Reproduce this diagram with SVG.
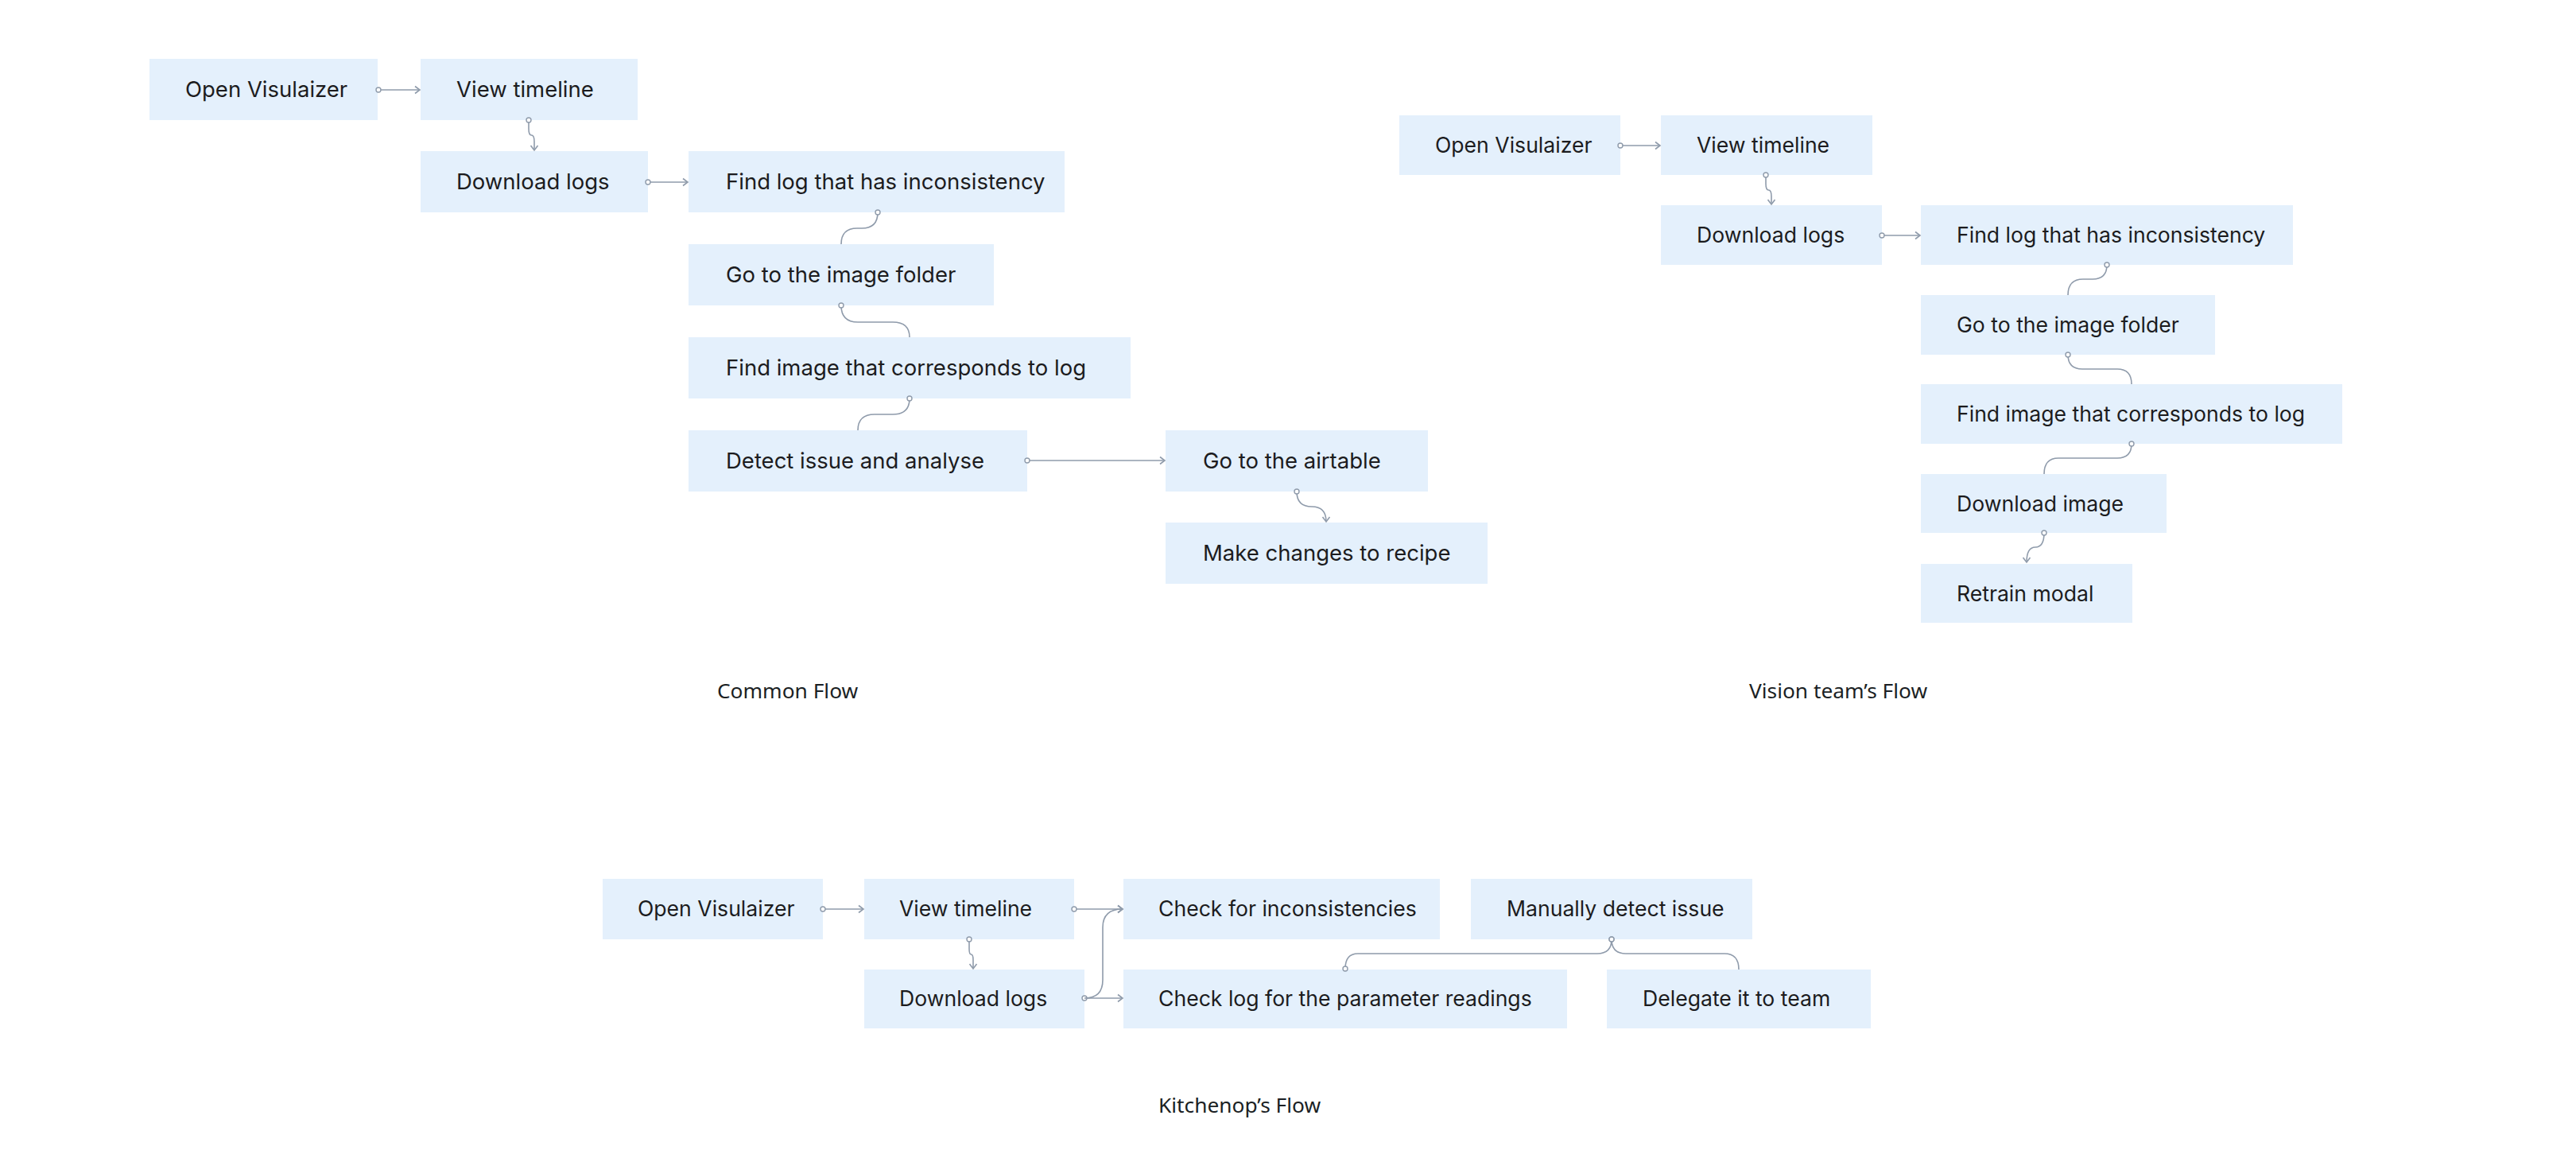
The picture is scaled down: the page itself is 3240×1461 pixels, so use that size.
<svg xmlns="http://www.w3.org/2000/svg" width="3240" height="1461" viewBox="0 0 3240 1461">
<style>
.box{fill:#E4F0FC}
.t{font-family:Inter,"Open Sans",sans-serif;font-size:27.5px;fill:#1c1c1e}
.t2{font-family:Inter,"Open Sans",sans-serif;font-size:26.6px;fill:#1c1c1e}
.title{font-family:"Noto Sans","Open Sans",sans-serif;font-size:26.3px;fill:#1b1f24}
.c{fill:none;stroke:#8f9bab;stroke-width:1.6}
</style>
<defs>
<marker id="arr" markerWidth="12" markerHeight="12" refX="10" refY="6" orient="auto" markerUnits="userSpaceOnUse"><path d="M4,1.5 L10,6 L4,10.5" fill="none" stroke="#8f9bab" stroke-width="1.6"/></marker>
<marker id="dot" markerWidth="10" markerHeight="10" refX="5" refY="5" markerUnits="userSpaceOnUse"><circle cx="5" cy="5" r="3" fill="#fff" stroke="#8f9bab" stroke-width="1.4"/></marker>
</defs>
<rect width="3240" height="1461" fill="#fff"/>

<!-- Common Flow -->
<g id="c-open"><rect class="box" x="188" y="74" width="287" height="77"/><text class="t" x="233" y="122">Open Visulaizer</text></g>
<g id="c-view"><rect class="box" x="529" y="74" width="273" height="77"/><text class="t" x="574" y="122">View timeline</text></g>
<g id="c-download"><rect class="box" x="529" y="190" width="286" height="77"/><text class="t" x="574" y="238">Download logs</text></g>
<g id="c-findlog"><rect class="box" x="866" y="190" width="473" height="77"/><text class="t" x="913" y="238">Find log that has inconsistency</text></g>
<g id="c-folder"><rect class="box" x="866" y="307" width="384" height="77"/><text class="t" x="913" y="355">Go to the image folder</text></g>
<g id="c-findimg"><rect class="box" x="866" y="424" width="556" height="77"/><text class="t" x="913" y="472">Find image that corresponds to log</text></g>
<g id="c-detect"><rect class="box" x="866" y="541" width="426" height="77"/><text class="t" x="913" y="589">Detect issue and analyse</text></g>
<g id="c-airtable"><rect class="box" x="1466" y="541" width="330" height="77"/><text class="t" x="1513" y="589">Go to the airtable</text></g>
<g id="c-recipe"><rect class="box" x="1466" y="657" width="405" height="77"/><text class="t" x="1513" y="705">Make changes to recipe</text></g>
<text class="title" x="902" y="878">Common Flow</text>

<!-- Vision team's Flow -->
<g id="v-open"><rect class="box" x="1760" y="145" width="278" height="75"/><text class="t2" x="1805" y="192">Open Visulaizer</text></g>
<g id="v-view"><rect class="box" x="2089" y="145" width="266" height="75"/><text class="t2" x="2134" y="192">View timeline</text></g>
<g id="v-download"><rect class="box" x="2089" y="258" width="278" height="75"/><text class="t2" x="2134" y="305">Download logs</text></g>
<g id="v-findlog"><rect class="box" x="2416" y="258" width="468" height="75"/><text class="t2" x="2461" y="305">Find log that has inconsistency</text></g>
<g id="v-folder"><rect class="box" x="2416" y="371" width="370" height="75"/><text class="t2" x="2461" y="418">Go to the image folder</text></g>
<g id="v-findimg"><rect class="box" x="2416" y="483" width="530" height="75"/><text class="t2" x="2461" y="530">Find image that corresponds to log</text></g>
<g id="v-dlimg"><rect class="box" x="2416" y="596" width="309" height="74"/><text class="t2" x="2461" y="643">Download image</text></g>
<g id="v-retrain"><rect class="box" x="2416" y="709" width="266" height="74"/><text class="t2" x="2461" y="756">Retrain modal</text></g>
<text class="title" x="2200" y="878">Vision team’s Flow</text>

<!-- Kitchenop's Flow -->
<g id="k-open"><rect class="box" x="758" y="1105" width="277" height="76"/><text class="t2" x="802" y="1152">Open Visulaizer</text></g>
<g id="k-view"><rect class="box" x="1087" y="1105" width="264" height="76"/><text class="t2" x="1131" y="1152">View timeline</text></g>
<g id="k-download"><rect class="box" x="1087" y="1219" width="277" height="74"/><text class="t2" x="1131" y="1265">Download logs</text></g>
<g id="k-check"><rect class="box" x="1413" y="1105" width="398" height="76"/><text class="t2" x="1457" y="1152">Check for inconsistencies</text></g>
<g id="k-manual"><rect class="box" x="1850" y="1105" width="354" height="76"/><text class="t2" x="1895" y="1152">Manually detect issue</text></g>
<g id="k-checklog"><rect class="box" x="1413" y="1219" width="558" height="74"/><text class="t2" x="1457" y="1265">Check log for the parameter readings</text></g>
<g id="k-delegate"><rect class="box" x="2021" y="1219" width="332" height="74"/><text class="t2" x="2066" y="1265">Delegate it to team</text></g>
<text class="title" x="1457" y="1399">Kitchenop’s Flow</text>

<g id="connectors">
<path class="c" marker-start="url(#dot)" marker-end="url(#arr)" d="M476 113 L528 113"/>
<path class="c" marker-start="url(#dot)" marker-end="url(#arr)" d="M665 151 L665 162 Q665 170 668.5 170 Q672 170 672 178 L672 189"/>
<path class="c" marker-start="url(#dot)" marker-end="url(#arr)" d="M815 229 L865 229"/>
<path class="c" marker-start="url(#dot)" d="M1104 267 Q1104 287 1084 287 L1078 287 Q1058 287 1058 307"/>
<path class="c" marker-start="url(#dot)" d="M1058 384 Q1058 405 1079 405 L1123 405 Q1144 405 1144 424"/>
<path class="c" marker-start="url(#dot)" d="M1144 501 Q1144 521 1123 521 L1100 521 Q1079 521 1079 541"/>
<path class="c" marker-start="url(#dot)" marker-end="url(#arr)" d="M1292 579 L1465 579"/>
<path class="c" marker-start="url(#dot)" marker-end="url(#arr)" d="M1631 618 Q1631 637 1650 637 Q1668 637 1668 656"/>

<path class="c" marker-start="url(#dot)" marker-end="url(#arr)" d="M2038 183 L2088 183"/>
<path class="c" marker-start="url(#dot)" marker-end="url(#arr)" d="M2221 220 L2221 231 Q2221 239 2224.5 239 Q2228 239 2228 247 L2228 257"/>
<path class="c" marker-start="url(#dot)" marker-end="url(#arr)" d="M2367 296 L2415 296"/>
<path class="c" marker-start="url(#dot)" d="M2650 333 Q2650 351 2632 351 L2620 351 Q2601 351 2601 371"/>
<path class="c" marker-start="url(#dot)" d="M2601 446 Q2601 464 2619 464 L2663 464 Q2681 464 2681 483"/>
<path class="c" marker-start="url(#dot)" d="M2681 558 Q2681 576 2663 576 L2589 576 Q2571 576 2571 596"/>
<path class="c" marker-start="url(#dot)" marker-end="url(#arr)" d="M2571 670 Q2571 688 2560 688 Q2549 688 2549 707"/>

<path class="c" marker-start="url(#dot)" marker-end="url(#arr)" d="M1035 1143 L1086 1143"/>
<path class="c" marker-start="url(#dot)" marker-end="url(#arr)" d="M1219 1181 L1219 1193 Q1219 1200 1221.5 1200 Q1224 1200 1224 1207 L1224 1218"/>
<path class="c" marker-start="url(#dot)" marker-end="url(#arr)" d="M1351 1143 L1412 1143"/>
<path class="c" marker-start="url(#dot)" marker-end="url(#arr)" d="M1364 1255 L1412 1255"/>
<path class="c" marker-end="url(#arr)" d="M1364 1255 Q1387 1255 1387 1232 L1387 1166 Q1387 1143 1412 1143"/>
<path class="c" marker-start="url(#dot)" marker-end="url(#dot)" d="M2027 1181 Q2027 1199 2009 1199 L1708 1199 Q1692 1199 1692 1218"/>
<path class="c" marker-start="url(#dot)" d="M2027 1181 Q2027 1199 2045 1199 L2169 1199 Q2187 1199 2187 1219"/>
</g>
</svg>
